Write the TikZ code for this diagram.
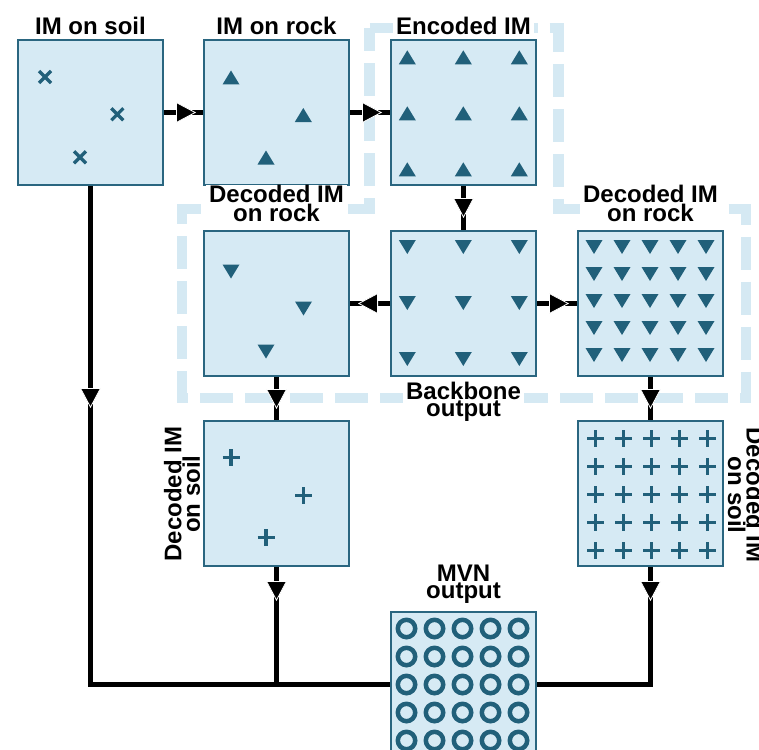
\documentclass[tikz,border=0pt]{standalone}
\usepackage{fontspec}
\setmainfont{Liberation Sans}
\usetikzlibrary{arrows.meta,decorations.markings}
\definecolor{boxfill}{HTML}{D6EAF4}
\definecolor{boxline}{HTML}{2A6680}
\definecolor{mkcol}{HTML}{21607A}
\definecolor{dashc}{HTML}{D5E9F3}
\begin{document}
\begin{tikzpicture}[x=1pt,y=-1pt,
  imbox/.style={draw=boxline, fill=boxfill, line width=2pt, minimum width=145pt, minimum height=145pt, inner sep=0pt},
  lbl/.style={font=\bfseries\fontsize{24}{17}\selectfont, align=center, inner xsep=3pt, inner ysep=1pt, fill=white},
  conn/.style={line width=5pt, line join=miter, postaction={decorate},
    decoration={markings, mark=at position #1 with {\arrow{Triangle[length=20pt,width=21pt,fill=black,color=white,line width=0.8pt]}}}},
  conn/.default=32pt,
  xmk/.pic={\draw[mkcol,line width=3.3pt] (-6,-6)--(6,6) (-6,6)--(6,-6);},
  uptri/.pic={\fill[mkcol] (-8.5,7)--(8.5,7)--(0,-7)--cycle;},
  dntri/.pic={\fill[mkcol] (-8.5,-7)--(8.5,-7)--(0,7)--cycle;},
  plusmk/.pic={\draw[mkcol,line width=3.4pt] (-8.5,0)--(8.5,0) (0,-8.5)--(0,8.5);},
  ringmk/.pic={\draw[mkcol,line width=4.5pt] (0,0) circle (8.7);}
]
\useasboundingbox (0,0) rectangle (759,749);
% dashed group outline
\draw[dashc, line width=10.5pt, dash pattern=on 33pt off 12pt, line join=miter]
  (369.5,28) -- (558.5,28) -- (558.5,209) -- (746,209) -- (746,398) -- (182,398) -- (182,209) -- (369.5,209) -- cycle;
% boxes
\node[imbox] (soil)  at (90.5,112.5) {};
\node[imbox] (rock)  at (276.5,112.5) {};
\node[imbox] (enc)   at (463.5,112.5) {};
\node[imbox] (lrock) at (276.5,303.5) {};
\node[imbox] (bb)    at (463.5,303.5) {};
\node[imbox] (rrock) at (650.5,303.5) {};
\node[imbox] (lsoil) at (276.5,493.5) {};
\node[imbox] (rsoil) at (650.5,493.5) {};
\node[imbox] (mvn)   at (463.5,684) {};
% markers
\pic at (45,77) {xmk}; \pic at (117.3,114.3) {xmk}; \pic at (80,157.3) {xmk};
\pic at (231,77.5) {uptri}; \pic at (303.3,115) {uptri}; \pic at (266,157.5) {uptri};
\foreach \i in {0,1,2} \foreach \j in {0,1,2} \pic at ({407.3+56*\i},{57.3+56*\j}) {uptri};
\foreach \i in {0,1,2} \foreach \j in {0,1,2} \pic at ({407.3+56*\i},{247+56*\j}) {dntri};
\pic at (231,271.5) {dntri}; \pic at (303.5,308.5) {dntri}; \pic at (266,351.5) {dntri};
\foreach \i in {0,...,4} \foreach \j in {0,...,4} \pic at ({594+28*\i},{247+27*\j}) {dntri};
\pic at (231,457.5) {plusmk}; \pic at (303.5,495.7) {plusmk}; \pic at (266,537.7) {plusmk};
\foreach \i in {0,...,4} \foreach \j in {0,...,4} \pic at ({595.5+28*\i},{438.5+28*\j}) {plusmk};
\foreach \i in {0,...,4} \foreach \j in {0,...,4} \pic at ({406.5+28*\i},{628.5+28*\j}) {ringmk};
% connectors
\draw[conn] (soil.east) -- (rock.west);
\draw[conn] (rock.east) -- (enc.west);
\draw[conn] (enc.south) -- (bb.north);
\draw[conn] (bb.west) -- (lrock.east);
\draw[conn] (bb.east) -- (rrock.west);
\draw[conn] (lrock.south) -- (lsoil.north);
\draw[conn] (rrock.south) -- (rsoil.north);
\draw[conn=34pt] (lsoil.south) |- (mvn.west);
\draw[conn=34pt] (rsoil.south) |- (mvn.east);
\draw[conn=222pt] (soil.south) |- (mvn.west);
% labels
\node[lbl, anchor=base] at (90.5,35) {IM on soil};
\node[lbl, anchor=base] at (276.5,35) {IM on rock};
\node[lbl, anchor=base] at (463.5,35) {Encoded IM};
\node[lbl, anchor=south] at (276.5,223) {Decoded IM\\on rock};
\node[lbl, anchor=south] at (650.5,223) {Decoded IM\\on rock};
\node[lbl, anchor=north] at (463.5,381) {Backbone\\output};
\node[lbl, anchor=south] at (463.5,605) {MVN\\output};
\node[lbl, rotate=90] at (182,494) {Decoded IM\\on soil};
\node[lbl, rotate=-90] at (746,495) {Decoded IM\\on soil};
\end{tikzpicture}
\end{document}
